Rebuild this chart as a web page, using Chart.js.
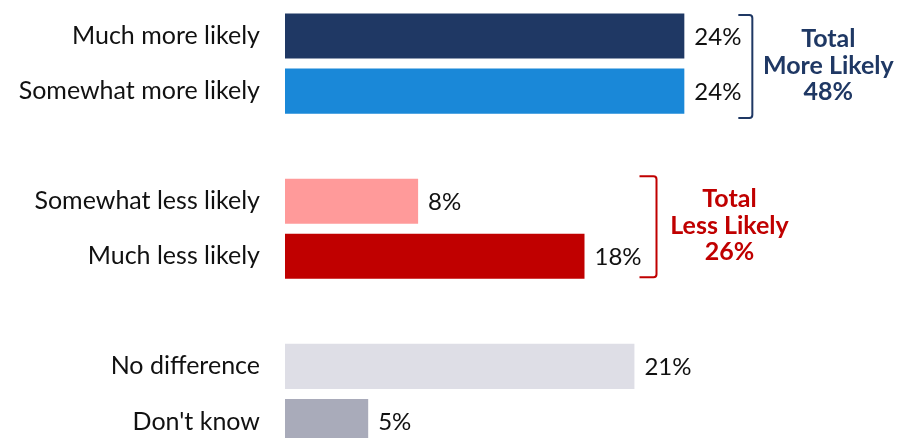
<!DOCTYPE html>
<html>
<head>
<meta charset="utf-8">
<script src="https://cdn.jsdelivr.net/npm/chart.js@4.4.1/dist/chart.umd.min.js"></script>
<style>
  html, body { margin: 0; padding: 0; background: #fff; overflow: hidden; }
  #wrap { position: relative; width: 903px; height: 449px; }
</style>
</head>
<body>
<div id="wrap"><canvas id="likely-bars"></canvas></div>
<script>
// empty strings are the spacer rows between groups
const categories = ["Much more likely", "Somewhat more likely", "", "Somewhat less likely", "Much less likely", "", "No difference", "Don't know"];
const values = [24, 24, null, 8, 18, null, 21, 5];
const barColors = ['#1F3864', '#1A88D8', '#fff', '#FF9A9A', '#C00000', '#fff', '#DEDEE6', '#A9ABBA'];
const groupRows = [[0, 1], [3, 4]];
const groupTitles = [["Total", "More Likely"], ["Total", "Less Likely"]];
const groupColors = ['#1F3864', '#C00000'];
// bracket look per group: gap after bar, hook length, extra above/below, text offset
const bracketStyle = [
  { gap: 54, hook: 14, up: 21, down: 27, text: 76 },
  { gap: 55, hook: 17, up: 25, down: 21, text: 73 }
];

const FONT = 'Lato, "Open Sans", sans-serif';
const FS = 25;

const labelPlugin = {
  id: 'labels',
  afterDatasetsDraw(chart) {
    const ctx = chart.ctx;
    const x = chart.scales.x, y = chart.scales.y;
    ctx.save();
    ctx.font = '24px ' + FONT;
    ctx.fillStyle = '#111';
    ctx.textAlign = 'left';
    ctx.textBaseline = 'middle';
    values.forEach((v, i) => {
      if (v == null) return;
      ctx.fillText(v + '%', x.getPixelForValue(v) + 10, y.getPixelForValue(i) + 1);
    });

    // brackets with group totals
    groupRows.forEach((rows, gi) => {
      const s = bracketStyle[gi];
      const color = groupColors[gi];
      const vals = rows.map(r => values[r]);
      const total = vals.reduce((a, b) => a + b, 0);
      const xs = x.getPixelForValue(Math.max(...vals)) + s.gap;
      const xv = xs + s.hook;
      const top = y.getPixelForValue(rows[0]) - s.up;
      const bot = y.getPixelForValue(rows[rows.length - 1]) + s.down;
      ctx.strokeStyle = color;
      ctx.lineWidth = 2;
      ctx.beginPath();
      ctx.moveTo(xs, top);
      ctx.lineTo(xv - 3, top);
      ctx.quadraticCurveTo(xv, top, xv, top + 3);
      ctx.lineTo(xv, bot - 3);
      ctx.quadraticCurveTo(xv, bot, xv - 3, bot);
      ctx.lineTo(xs, bot);
      ctx.stroke();

      const cy = (top + bot) / 2;
      const cx = xv + s.text;
      ctx.fillStyle = color;
      ctx.font = 'bold ' + FS + 'px ' + FONT;
      ctx.textAlign = 'center';
      const lines = groupTitles[gi].concat([total + '%']);
      const dy = [-28, -0.5, 25.5];
      lines.forEach((t, k) => ctx.fillText(t, cx, cy + dy[k]));
    });
    ctx.restore();
  }
};

new Chart(document.getElementById('likely-bars').getContext('2d'), {
  type: 'bar',
  data: {
    labels: categories,
    datasets: [{
      data: values,
      backgroundColor: barColors,
      categoryPercentage: 1,
      barPercentage: 0.82
    }]
  },
  options: {
    indexAxis: 'y',
    responsive: true,
    maintainAspectRatio: false,
    animation: false,
    layout: { padding: { top: 8.5, bottom: 0, left: 0, right: 19 } },
    plugins: { legend: { display: false }, tooltip: { enabled: false } },
    scales: {
      x: {
        min: 0, max: 36,
        display: false
      },
      y: {
        grid: { display: false, drawTicks: false },
        border: { display: false },
        ticks: { color: '#111', padding: 25, font: { family: FONT, size: FS } },
        afterFit(scale) {
          scale.width = 285;
          scale.paddingTop = 0;
          scale.paddingBottom = 0;
        }
      }
    }
  },
  plugins: [labelPlugin]
});
</script>
</body>
</html>
